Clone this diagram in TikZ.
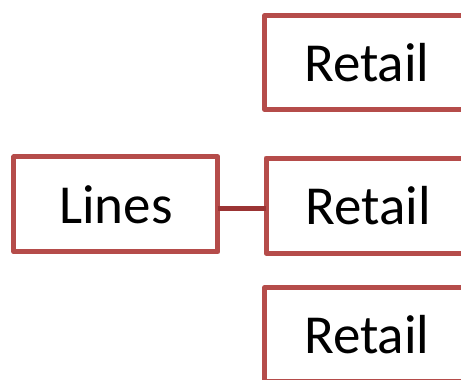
\documentclass[tikz,border=0pt]{standalone}
\usepackage{fontspec}
\setmainfont{Carlito}
\definecolor{boxred}{RGB}{181,76,74}
\definecolor{linkred}{RGB}{155,52,52}
\tikzset{
  unitbox/.style={draw=boxred, line width=5pt, fill=white, inner sep=0pt,
    minimum width=204pt, line join=round,
    font=\fontsize{55}{57}\selectfont},
  link/.style={draw=linkred, line width=5.5pt}
}
\begin{document}
\begin{tikzpicture}[x=1pt,y=-1pt]
  \useasboundingbox (0,0) rectangle (461,380);
  \clip (0,0) rectangle (461,380);
  \node[unitbox, minimum height=95pt] (lines) at (115.9,204.3) {Lines};
  \node[unitbox, minimum height=94pt] (retailtop) at (366.8,62.5) {Retail};
  \node[unitbox, minimum height=95pt] (retailmid) at (368,205.5) {Retail};
  \node[unitbox, minimum height=94pt] (retailbot) at (366.8,334.5) {Retail};
  \draw[link] ([xshift=-2.5pt,yshift=-4.4pt]lines.east) -- ([xshift=2.5pt,yshift=-3.2pt]retailmid.west);
\end{tikzpicture}
\end{document}
